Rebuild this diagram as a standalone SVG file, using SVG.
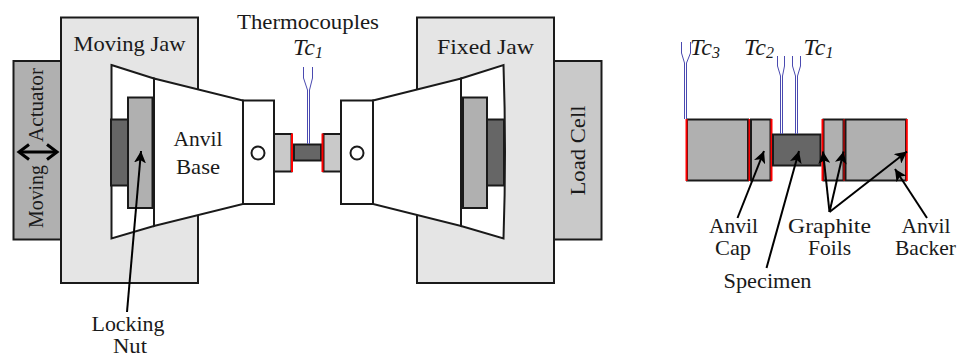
<svg xmlns="http://www.w3.org/2000/svg" width="963" height="358" viewBox="0 0 963 358">
<style>
.s{stroke:#1a1a1a;stroke-width:2;stroke-linejoin:miter}
.w{fill:#fff}.j{fill:#e5e5e5}.m{fill:#b0b0b0}.c{fill:#c9c9c9}.d{fill:#666}
.r{stroke:#f00;stroke-width:2;fill:none}
.tc{stroke:#4a4ab0;stroke-width:1;fill:none}
.a{stroke:#000;stroke-width:2;fill:none;marker-end:url(#h)}
text{font-family:"Liberation Serif","Times New Roman",serif;font-size:21px;fill:#1a1a1a;text-anchor:middle}
.i{font-style:italic;font-size:24px}
.sub{font-size:16px}
</style>
<defs>
<marker id="h" markerUnits="userSpaceOnUse" markerWidth="14" markerHeight="12" refX="12" refY="6" orient="auto"><path d="M0 0L12 6L0 12L3 6Z" fill="#000"/></marker>
<marker id="h2" markerUnits="userSpaceOnUse" markerWidth="16" markerHeight="18" refX="13" refY="9" orient="auto-start-reverse"><path d="M3 1.500L13 9L3 16.500" fill="none" stroke="#000" stroke-width="3"/></marker>
</defs>
<g id="moving-actuator"><rect class="s m" x="13.5" y="61" width="47.5" height="178.5"/>
<text transform="translate(43,105) rotate(-90)" textLength="74" lengthAdjust="spacingAndGlyphs">Actuator</text>
<text transform="translate(43,196.500) rotate(-90)" textLength="63" lengthAdjust="spacingAndGlyphs">Moving</text></g>
<g id="moving-jaw"><rect class="s j" x="61" y="17.5" width="137" height="265.5"/>
<text x="129.500" y="50.500" textLength="112" lengthAdjust="spacingAndGlyphs">Moving Jaw</text></g>
<g id="left-wedge"><path class="s w" d="M111.500 65L154 78.500L154 226L111.500 238.500Z"/></g>
<g id="left-nut"><rect class="s d" x="111" y="119.500" width="17" height="66"/></g>
<g id="left-plate"><rect class="s m" x="128" y="97.500" width="24.500" height="110.500"/></g>
<g id="anvil-base"><path class="s w" d="M154 78.500L243 100.500L243 204L154 226Z"/>
<text x="198" y="146" textLength="49" lengthAdjust="spacingAndGlyphs">Anvil</text>
<text x="198" y="173.500" textLength="44" lengthAdjust="spacingAndGlyphs">Base</text></g>
<g id="left-block"><rect class="s w" x="243" y="100.500" width="31" height="103.500"/><circle class="s w" cx="258" cy="153" r="6.500"/></g>
<g id="left-cap"><rect class="s c" x="274" y="134" width="17.500" height="37.500"/><line class="r" x1="292" y1="133.500" x2="292" y2="172"/></g>
<g id="specimen"><rect class="s d" x="294" y="144.500" width="27" height="16"/></g>
<g id="right-cap"><rect class="s c" x="323.500" y="134" width="17.500" height="37.500"/><line class="r" x1="322.500" y1="133.500" x2="322.500" y2="172"/></g>
<g id="right-block"><rect class="s w" x="341" y="100.500" width="32" height="103.500"/><circle class="s w" cx="357" cy="153" r="6.500"/></g>
<g id="fixed-jaw"><rect class="s j" x="417" y="17.500" width="137" height="265.500"/>
<text x="485.500" y="53.500" textLength="97" lengthAdjust="spacingAndGlyphs">Fixed Jaw</text></g>
<g id="load-cell"><rect class="s c" x="554" y="61" width="47.500" height="178.500"/>
<text transform="translate(585,150.500) rotate(-90)" textLength="90" lengthAdjust="spacingAndGlyphs">Load Cell</text></g>
<g id="right-wedge"><path class="s w" d="M461 78.500L503.500 65Q506.500 152 503.500 238.500L461 226Z"/></g>
<g id="right-plate"><rect class="s m" x="463" y="97.500" width="24" height="110.500"/></g>
<g id="right-nut"><rect class="s d" x="487" y="119.500" width="17" height="66"/></g>
<g id="fixed-anvil-base"><path class="s w" d="M373 100.500L461 78.500L461 226L373 204Z"/></g>
<g id="thermocouple-label"><text x="308" y="29" textLength="142" lengthAdjust="spacingAndGlyphs">Thermocouples</text>
<text x="308" y="54.500" class="i">Tc<tspan class="sub" dy="3">1</tspan></text></g>
<g id="detail-left-backer"><rect class="s m" x="687" y="119.500" width="61" height="61"/><line class="r" x1="686.500" y1="119" x2="686.500" y2="181"/><line class="r" x1="749.500" y1="119" x2="749.500" y2="181"/></g>
<g id="detail-left-cap"><rect class="s m" x="751" y="119.500" width="19.500" height="61"/><line class="r" x1="771.500" y1="119" x2="771.500" y2="181"/></g>
<g id="detail-specimen"><rect class="s d" x="773" y="134.500" width="47.500" height="31"/></g>
<g id="detail-right-cap"><rect class="s m" x="823.500" y="119.500" width="20" height="61"/><line class="r" x1="822.500" y1="119" x2="822.500" y2="181"/><line class="r" x1="844.500" y1="119" x2="844.500" y2="181"/></g>
<g id="detail-right-backer"><rect class="s m" x="845.500" y="119.500" width="60.500" height="61"/><line class="r" x1="906.800" y1="119" x2="906.800" y2="181"/></g>
<g id="connectors">
<path class="tc" d="M303.500 67V78L307.500 90V144M312.500 67V78L309.500 90V144"/>
<path class="tc" d="M681.500 42V53L684.500 63V119M690.500 42V53L686.500 63V119"/>
<path class="tc" d="M777.500 56V66L780.500 76V134M784.500 56V66L782.500 76V134"/>
<path class="tc" d="M792.500 56V66L795.500 76V134M800.500 56V66L797.500 76V134"/>
<line x1="127" y1="312" x2="141" y2="151" class="a"/>
<line x1="737.500" y1="218" x2="764" y2="151" class="a"/>
<line x1="766.500" y1="268" x2="799" y2="151" class="a"/>
<line x1="829.500" y1="212" x2="823" y2="151.500" class="a"/>
<line x1="829.500" y1="212" x2="843.500" y2="151.500" class="a"/>
<line x1="829.500" y1="212" x2="907" y2="151.500" class="a"/>
<line x1="927" y1="218" x2="895" y2="169" class="a"/>
<line x1="19" y1="152" x2="57" y2="152" stroke="#000" stroke-width="3" marker-start="url(#h2)" marker-end="url(#h2)"/>
</g>
<g id="detail-labels">
<text x="128" y="331" textLength="73" lengthAdjust="spacingAndGlyphs">Locking</text>
<text x="130" y="353" textLength="34" lengthAdjust="spacingAndGlyphs">Nut</text>
<text x="705" y="54.500" class="i">Tc<tspan class="sub" dy="3">3</tspan></text>
<text x="759" y="54.500" class="i">Tc<tspan class="sub" dy="3">2</tspan></text>
<text x="818.500" y="54.500" class="i">Tc<tspan class="sub" dy="3">1</tspan></text>
<text x="733.500" y="233" textLength="49" lengthAdjust="spacingAndGlyphs">Anvil</text>
<text x="733" y="255" textLength="36" lengthAdjust="spacingAndGlyphs">Cap</text>
<text x="829.500" y="233" textLength="83" lengthAdjust="spacingAndGlyphs">Graphite</text>
<text x="829.500" y="255" textLength="43" lengthAdjust="spacingAndGlyphs">Foils</text>
<text x="926" y="233" textLength="49" lengthAdjust="spacingAndGlyphs">Anvil</text>
<text x="925.500" y="255" textLength="61" lengthAdjust="spacingAndGlyphs">Backer</text>
<text x="767.500" y="288" textLength="88" lengthAdjust="spacingAndGlyphs">Specimen</text>
</g>
</svg>
